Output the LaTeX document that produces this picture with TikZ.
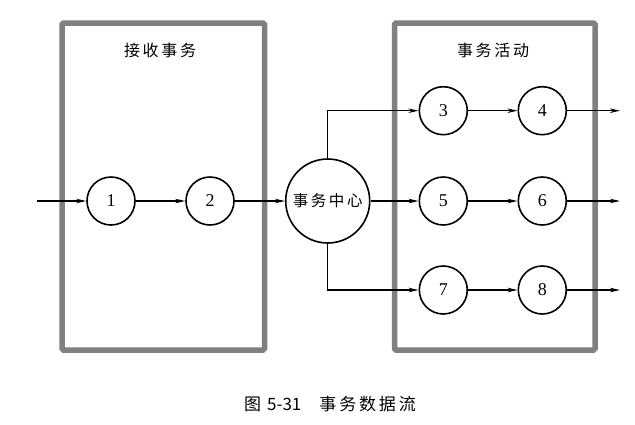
\documentclass[tikz,border=0pt]{standalone}
\usepackage{fontspec}
\setmainfont{Liberation Serif}
\newfontfamily\cjk{Noto Sans CJK SC}
\usetikzlibrary{arrows.meta}
\definecolor{boxgray}{HTML}{808080}
\begin{document}
\begin{tikzpicture}[x=1pt,y=-1pt,
  grp/.style={draw=boxgray,line width=5.5pt,rounded corners=1.5pt},
  proc/.style={circle,draw,line width=1.6pt,minimum size=48pt,inner sep=0pt,font=\fontsize{18}{18}\selectfont},
  hub/.style={circle,draw,line width=1.6pt,minimum size=84pt,inner sep=0pt,font=\cjk\fontsize{15.5}{15.5}\selectfont},
  flow/.style={line width=1.3pt,-{Stealth[length=10pt,width=4.5pt]}},
  ttl/.style={font=\cjk\fontsize{16}{16}\selectfont}]
\useasboundingbox (0,0) rectangle (635,424);
\fill[white] (0,0) rectangle (635,424);
\draw[grp] (62,23) rectangle (264.5,350);
\draw[grp] (394.5,23) rectangle (595,350);
\node[ttl] (t1) at (160,50) {接\,收\,事\,务};
\node[ttl] (t2) at (493,50) {事\,务\,活\,动};
\node[proc] (n1) at (111,201) {1};
\node[proc] (n2) at (210,201) {2};
\node[hub] (hc) at (327.7,201) {事\,务\,中\,心};
\node[proc] (n3) at (443.3,110.7) {3};
\node[proc] (n4) at (542.3,110.7) {4};
\node[proc] (n5) at (443.3,201) {5};
\node[proc] (n6) at (542.3,201) {6};
\node[proc] (n7) at (443.3,290) {7};
\node[proc] (n8) at (542.3,290) {8};
\coordinate (in) at (37,201);
\coordinate (o4) at (620,110.7);
\coordinate (o6) at (620,201);
\coordinate (o8) at (620,290);
\draw[flow] (in) -- (n1);
\draw[flow] (n1) -- (n2);
\draw[flow] (n2) -- (hc);
\draw[flow] (hc.north) |- (n3);
\draw[flow] (hc) -- (n5);
\draw[flow] (hc.south) |- (n7);
\draw[flow] (n3) -- (n4);
\draw[flow] (n5) -- (n6);
\draw[flow] (n7) -- (n8);
\draw[flow] (n4) -- (o4);
\draw[flow] (n6) -- (o6);
\draw[flow] (n8) -- (o8);
\node[font=\cjk\fontsize{17}{17}\selectfont] (cap) at (330,404) {图\hspace{6pt}5-31\hspace{18pt}事\,务\,数\,据\,流};
\end{tikzpicture}
\end{document}
